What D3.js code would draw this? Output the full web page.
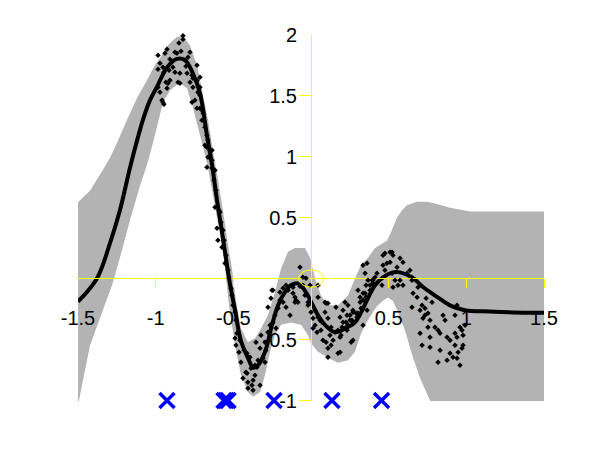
<!DOCTYPE html>
<html>
<head>
<meta charset="utf-8">
<script src="https://cdn.jsdelivr.net/npm/d3@7"></script>
<style>
  html, body { margin: 0; padding: 0; background: #fff; }
  svg { display: block; }
  text { font-family: "Liberation Sans", Arial, Helvetica, sans-serif; font-size: 20px; fill: #000; }
</style>
</head>
<body>
<svg id="chart" width="600" height="450"></svg>
<script>
// ---------------- data ----------------
const xDomain = [-1.5, 1.5];
const yDomain = [-1, 2];
const xTickValues = [-1.5, -1, -0.5, 0.5, 1, 1.5];
const xTickLabels = ["-1.5", "-1", "-0.5", "0.5", "1", "1.5"];
const xTickMarks = [-1, -0.5, 0.5, 1, 1.5];
const yTickValues = [2, 1.5, 1, 0.5, -0.5, -1];
const yTickLabels = ["2", "1.5", "1", "0.5", "-0.5", "-1"];
const yTickMarks = [1.5, 1, 0.5, -0.5, -1];

// predictive mean
const meanX = [-1.50,-1.378,-1.294,-1.23,-1.165,-1.12,-1.082,-1.037,-0.992,-0.927,-0.863,-0.811,-0.76,-0.715,-0.67,-0.637,-0.605,-0.573,-0.541,-0.522,-0.489,-0.451,-0.406,-0.373,-0.341,-0.296,-0.257,-0.212,-0.167,-0.129,-0.084,-0.039,0.0,0.045,0.09,0.155,0.219,0.283,0.322,0.367,0.412,0.464,0.528,0.573,0.65,0.721,0.811,0.895,0.99,1.15,1.39,1.5];
const meanY = [-0.19,0.0,0.29,0.56,0.91,1.13,1.30,1.46,1.57,1.73,1.80,1.79,1.68,1.52,1.175,0.93,0.64,0.38,0.11,-0.04,-0.26,-0.51,-0.65,-0.73,-0.71,-0.60,-0.41,-0.22,-0.11,-0.055,-0.04,-0.10,-0.19,-0.30,-0.38,-0.44,-0.41,-0.36,-0.28,-0.16,-0.055,0.01,0.05,0.05,0.01,-0.07,-0.15,-0.22,-0.26,-0.27,-0.28,-0.28];

// confidence band, upper edge
const upperX = [-1.50,-1.423,-1.34,-1.294,-1.243,-1.185,-1.12,-1.056,-1.005,-0.97,-0.93,-0.89,-0.863,-0.824,-0.78,-0.734,-0.695,-0.663,-0.631,-0.599,-0.567,-0.534,-0.509,-0.483,-0.451,-0.406,-0.36,-0.322,-0.277,-0.232,-0.193,-0.148,-0.103,-0.039,-0.006,0.026,0.064,0.109,0.174,0.238,0.283,0.322,0.367,0.412,0.464,0.489,0.522,0.554,0.586,0.618,0.683,0.747,0.811,0.895,1.024,1.5];
const upperY = [0.625,0.72,0.89,0.99,1.13,1.30,1.48,1.625,1.75,1.81,1.90,1.95,1.98,1.99,1.91,1.75,1.50,1.30,1.05,0.81,0.56,0.27,0.085,-0.18,-0.41,-0.52,-0.49,-0.41,-0.30,-0.11,0.08,0.22,0.25,0.25,0.17,0.0,-0.14,-0.22,-0.22,-0.14,0.0,0.11,0.17,0.25,0.29,0.31,0.40,0.50,0.56,0.60,0.63,0.63,0.61,0.58,0.55,0.55];

// confidence band, lower edge
const lowerX = [-1.50,-1.423,-1.34,-1.281,-1.23,-1.165,-1.10,-1.056,-1.024,-0.992,-0.953,-0.908,-0.863,-0.831,-0.798,-0.76,-0.728,-0.695,-0.663,-0.631,-0.599,-0.567,-0.547,-0.528,-0.509,-0.483,-0.451,-0.406,-0.373,-0.328,-0.296,-0.264,-0.232,-0.193,-0.129,-0.064,-0.019,0.0,0.045,0.109,0.174,0.238,0.283,0.322,0.367,0.419,0.464,0.496,0.528,0.56,0.605,0.657,0.702,0.766,0.83,1.02,1.5];
const lowerY = [-1.04,-0.55,-0.26,-0.055,0.17,0.48,0.765,0.93,1.08,1.24,1.445,1.54,1.59,1.59,1.56,1.40,1.24,1.08,0.91,0.68,0.46,0.23,0.01,-0.22,-0.38,-0.59,-0.79,-0.93,-0.97,-0.93,-0.79,-0.60,-0.465,-0.38,-0.36,-0.38,-0.465,-0.53,-0.60,-0.65,-0.69,-0.67,-0.60,-0.45,-0.34,-0.235,-0.18,-0.155,-0.185,-0.275,-0.425,-0.65,-0.815,-1.0,-1.08,-1.12,-1.12];

// observed training points
const dotX = [
-0.824,-0.824,-0.850,-0.985,-0.927,-0.940,-0.908,-0.876,-0.863,-0.837,-0.779,-0.792,-0.811,-0.972,-0.953,-0.985,-0.914,-0.889,-0.876,-0.844,
-0.798,-0.766,-0.734,-0.760,-0.734,-0.715,-0.779,-0.760,-0.715,-0.728,-0.908,-0.934,-0.921,-0.927,-0.856,-0.844,-0.985,-0.972,-0.959,-0.953,
-0.947,-0.766,-0.747,-0.715,-0.734,-0.715,-0.702,-0.695,-0.702,-0.683,-0.670,-0.663,-0.670,-0.650,-0.663,-0.637,-0.670,-0.637,-0.947,-0.805,
-0.683,-0.637,-0.618,-0.618,-0.586,-0.605,-0.567,-0.599,-0.573,-0.554,-0.625,-0.612,-0.592,-0.580,-0.560,-0.547,-0.534,-0.528,-0.515,-0.509,
-0.502,-0.489,-0.483,
-0.477,-0.457,-0.412,-0.393,-0.412,-0.373,-0.373,-0.348,-0.341,-0.489,-0.483,-0.451,-0.419,-0.438,-0.406,-0.386,-0.380,-0.361,-0.406,-0.328,
-0.361,-0.354,-0.328,-0.322,-0.296,-0.309,-0.296,-0.264,-0.277,-0.290,-0.232,-0.245,-0.212,-0.225,-0.431,-0.464,
-0.258,-0.277,-0.245,-0.200,-0.180,-0.161,-0.135,-0.180,-0.161,-0.116,-0.103,-0.097,-0.084,-0.071,-0.052,-0.032,-0.006,-0.052,-0.039,-0.019,
-0.019,0.0,0.013,0.026,0.045,0.045,0.058,0.064,0.097,0.109,0.090,0.109,0.129,0.122,0.155,0.097,0.109,0.129,0.161,0.187,
0.206,0.219,0.193,0.187,0.109,0.225,0.251,0.270,0.290,0.258,0.270,0.316,0.322,0.335,0.348,0.354,0.354,0.335,
-0.251,-0.116,-0.103,0.090,0.045,0.013,0.039,0.077,0.142,0.187,0.174,0.251,0.296,0.361,0.380,0.399,0.476,0.509,0.476,0.522,
0.457,0.528,0.560,-0.200,-0.148,-0.071,0.026,0.071,0.174,0.238,
0.219,0.238,0.206,0.232,0.270,0.264,0.200,0.232,0.270,0.303,0.303,0.316,0.335,0.335,0.348,0.361,0.367,0.393,0.380,0.399,
0.412,0.425,0.464,0.489,0.509,0.528,0.573,0.592,0.554,0.522,0.541,0.573,0.592,0.618,0.637,0.650,0.657,0.683,0.689,0.650,
0.715,0.702,0.734,0.734,0.753,0.721,0.766,0.753,0.863,0.850,0.940,0.927,0.702,0.715,0.766,0.818,0.798,0.831,0.876,0.927,
0.959,0.972,0.979,0.992,0.940,0.895,0.927,0.979,0.972,0.947,0.914,0.940,0.831,0.876,0.818,0.959,0.895,0.766,0.464,0.741,
0.779
];
const dotY = [
1.99,1.96,1.93,1.83,1.88,1.847,1.798,1.855,1.847,1.863,1.855,1.814,1.789,1.765,1.732,1.716,1.707,1.732,1.691,1.683,
1.683,1.666,1.748,1.642,1.625,1.650,1.609,1.568,1.568,1.527,1.625,1.609,1.601,1.560,1.609,1.601,1.568,1.527,1.461,1.445,
1.429,1.445,1.461,1.502,1.396,1.396,1.380,1.355,1.298,1.240,1.175,1.134,1.076,1.052,0.994,0.970,0.912,0.904,1.691,1.740,
1.093,1.052,0.888,0.584,0.543,0.412,0.396,0.314,0.257,0.125,0.806,0.724,0.560,0.461,0.314,0.191,0.068,0.002,-0.080,-0.137,
-0.219,-0.276,-0.342,
-0.448,-0.506,-0.612,-0.645,-0.776,-0.834,-0.916,-0.727,-0.670,-0.489,-0.547,-0.686,-0.768,-0.817,-0.850,-0.735,-0.875,-0.793,-0.899,-0.875,
-0.711,-0.522,-0.571,-0.465,-0.522,-0.653,-0.686,-0.383,-0.440,-0.588,-0.301,-0.358,-0.243,-0.407,-0.588,-0.604,
-0.161,-0.235,-0.096,-0.112,-0.194,-0.235,-0.301,-0.080,-0.055,-0.120,-0.153,-0.178,-0.194,0.093,0.011,0.002,-0.055,-0.055,-0.137,-0.194,
-0.219,-0.276,-0.325,-0.383,-0.055,-0.153,-0.342,-0.424,-0.202,-0.202,-0.276,-0.325,-0.399,-0.465,-0.440,-0.522,-0.571,-0.547,-0.235,-0.317,
-0.358,-0.407,-0.465,-0.604,-0.645,-0.358,-0.301,-0.358,-0.284,-0.522,-0.260,-0.194,-0.243,-0.178,-0.120,-0.153,-0.055,0.109,
-0.096,-0.071,-0.194,-0.194,-0.317,-0.407,-0.440,-0.506,-0.506,-0.481,-0.612,-0.342,-0.317,-0.260,-0.096,-0.014,0.068,0.134,0.207,0.216,
-0.055,-0.071,-0.055,-0.178,-0.096,-0.063,-0.260,-0.358,-0.424,-0.383,
-0.194,-0.219,-0.260,-0.301,-0.276,-0.342,-0.399,-0.424,-0.506,-0.284,-0.096,-0.153,-0.120,-0.383,0.043,0.125,-0.014,-0.014,-0.055,-0.039,
0.011,0.043,0.109,0.125,0.216,0.191,0.166,0.134,0.093,0.043,-0.014,-0.014,-0.055,0.043,0.068,-0.014,-0.120,-0.153,-0.071,-0.235,
-0.219,-0.260,-0.243,-0.301,-0.284,-0.325,-0.342,-0.399,-0.342,-0.301,-0.219,-0.301,-0.448,-0.547,-0.481,-0.424,-0.399,-0.448,-0.481,-0.448,
-0.399,-0.424,-0.465,-0.383,-0.481,-0.506,-0.547,-0.547,-0.571,-0.604,-0.645,-0.653,-0.588,-0.670,-0.686,-0.711,-0.612,-0.563,0.191,-0.161,
-0.194
];

// inducing inputs (blue crosses at y = -1)
const inducingX = [-0.927, -0.560, -0.547, -0.534, -0.238, 0.135, 0.454];
const inducingY = -1;

// origin marker
const originX = 0, originY = 0;

// ---------------- drawing ----------------
const svg = d3.select("#chart");
const x = d3.scaleLinear().domain(xDomain).range([78, 544]);
const y = d3.scaleLinear().domain(yDomain).range([400.5, 34.5]);

svg.append("rect").attr("width", 600).attr("height", 450).attr("fill", "#fff");

svg.append("clipPath").attr("id", "plotclip")
  .append("rect").attr("x", x(-1.5)).attr("y", y(2)).attr("width", x(1.5) - x(-1.5)).attr("height", y(-1) - y(2) + 0.5);

const plot = svg.append("g").attr("clip-path", "url(#plotclip)");

// band polygon: upper left->right then lower right->left
const upperPts = upperX.map((v, i) => [v, upperY[i]]);
const lowerPts = lowerX.map((v, i) => [v, lowerY[i]]).reverse();
const bandLine = d3.line().x(d => x(d[0])).y(d => y(d[1])).curve(d3.curveLinear);
plot.append("path")
  .attr("d", bandLine(upperPts.concat(lowerPts)) + "Z")
  .attr("fill", "#b3b3b3")
  .attr("stroke", "none");

// yellow axes through the origin
const axes = svg.append("g").attr("stroke", "#ffff00").attr("stroke-width", 1).attr("shape-rendering", "crispEdges");
axes.append("line").attr("x1", x(-1.5)).attr("x2", x(1.5)).attr("y1", Math.floor(y(0)) + 0.5).attr("y2", Math.floor(y(0)) + 0.5);
axes.append("line").attr("x1", Math.floor(x(0)) + 0.5).attr("x2", Math.floor(x(0)) + 0.5).attr("y1", y(2)).attr("y2", y(-1));
axes.selectAll(".xt").data(xTickMarks).enter().append("line")
  .attr("x1", d => Math.floor(x(d)) + 0.5).attr("x2", d => Math.floor(x(d)) + 0.5)
  .attr("y1", y(0)).attr("y2", y(0) + 9);
axes.selectAll(".yt").data(yTickMarks).enter().append("line")
  .attr("x1", x(0)).attr("x2", x(0) - 12)
  .attr("y1", d => Math.floor(y(d)) + 0.5).attr("y2", d => Math.floor(y(d)) + 0.5);

// tick labels
svg.append("g").selectAll("text").data(xTickValues).enter().append("text")
  .attr("x", d => x(d)).attr("y", y(0) + 46)
  .attr("text-anchor", "middle")
  .text((d, i) => xTickLabels[i]);
svg.append("g").selectAll("text").data(yTickValues).enter().append("text")
  .attr("x", x(0) - 14).attr("y", d => y(d) + 7)
  .attr("text-anchor", "end")
  .text((d, i) => yTickLabels[i]);

// data points (small filled diamonds)
const dotSym = d3.symbol().type(d3.symbolSquare).size(15);
svg.append("g").selectAll("path").data(dotX.map((v, i) => [v, dotY[i]])).enter().append("path")
  .attr("transform", d => `translate(${x(d[0])},${y(d[1])}) rotate(45)`)
  .attr("d", dotSym())
  .attr("fill", "#000");

// mean line
const meanLine = d3.line().x(d => x(d[0])).y(d => y(d[1])).curve(d3.curveCatmullRom.alpha(0.5));
plot.append("path")
  .attr("d", meanLine(meanX.map((v, i) => [v, meanY[i]])))
  .attr("fill", "none").attr("stroke", "#000").attr("stroke-width", 4).attr("stroke-linejoin", "round");

// inducing points
const xs = svg.append("g").attr("stroke", "#0000ff").attr("stroke-width", 3.5);
inducingX.forEach(v => {
  const cx = x(v), cy = y(inducingY), h = 7.5;
  xs.append("path").attr("d", `M${cx - h},${cy - h}L${cx + h},${cy + h}M${cx - h},${cy + h}L${cx + h},${cy - h}`);
});

// origin marker
svg.append("ellipse")
  .attr("cx", x(originX)).attr("cy", y(originY))
  .attr("rx", x(0.08) - x(0)).attr("ry", y(0) - y(0.071))
  .attr("fill", "none").attr("stroke", "#ffff00").attr("stroke-width", 1);
</script>
</body>
</html>
